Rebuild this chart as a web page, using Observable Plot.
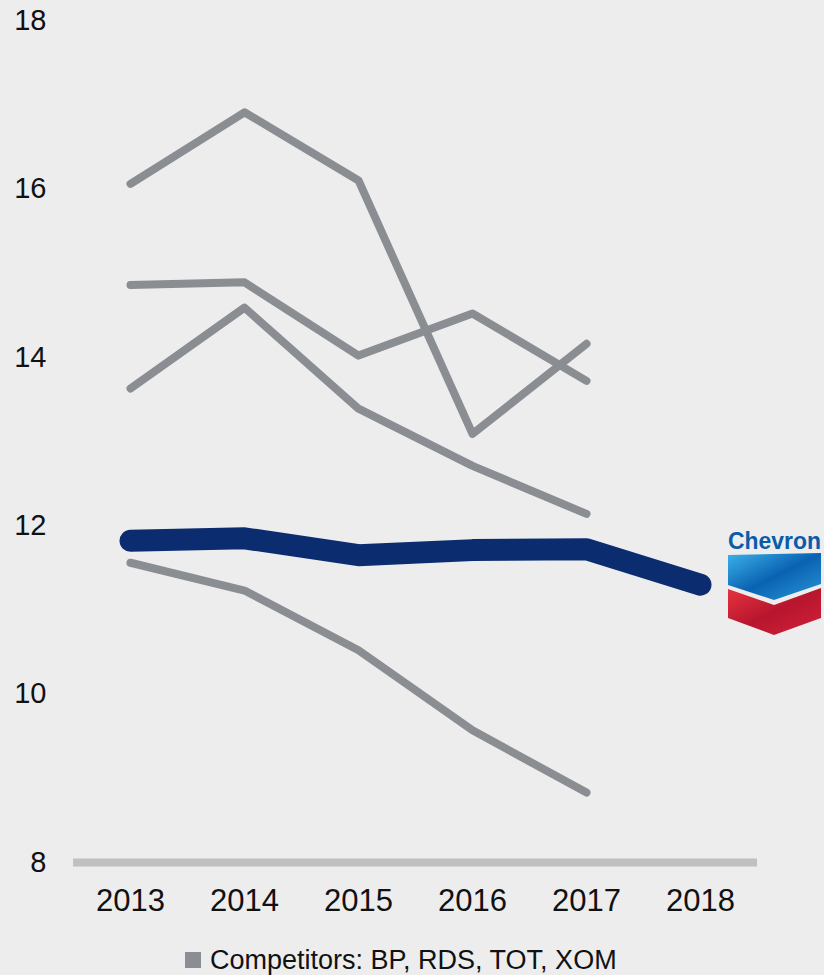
<!DOCTYPE html>
<html>
<head>
<meta charset="utf-8">
<script src="https://cdn.jsdelivr.net/npm/d3@7"></script>
<script src="https://cdn.jsdelivr.net/npm/@observablehq/plot@0.6"></script>
<style>
  html, body { margin: 0; padding: 0; background: #ededed; }
  #wrap { position: relative; width: 824px; height: 975px; background: #ededed; font-family: "Liberation Sans", Arial, sans-serif; }
  #legend { position: absolute; left: 185px; top: 940px; height: 40px; display: flex; align-items: center; font-size: 27px; color: #111; }
  #legend .sw { width: 16px; height: 16px; background: #8a8d91; margin-right: 9px; }
  #logo { position: absolute; left: 724px; top: 525px; }
</style>
</head>
<body>
<div id="wrap"></div>
<script>
const years = [2013, 2014, 2015, 2016, 2017, 2018];
const competitorYears = [2013, 2014, 2015, 2016, 2017];
const competitorA = [16.06, 16.91, 16.10, 13.09, 14.16];
const competitorB = [14.86, 14.89, 14.02, 14.52, 13.72];
const competitorC = [13.63, 14.59, 13.39, 12.71, 12.14];
const competitorD = [11.56, 11.23, 10.52, 9.57, 8.83];
const chevron = [11.82, 11.85, 11.65, 11.71, 11.72, 11.30];
const yTicks = [8, 10, 12, 14, 16, 18];
const legendLabel = "Competitors: BP, RDS, TOT, XOM";

const competitors = {A: competitorA, B: competitorB, C: competitorC, D: competitorD};
const compData = Object.entries(competitors).flatMap(([name, vals]) =>
  vals.map((v, i) => ({series: name, year: competitorYears[i], value: v})));
const chevData = chevron.map((v, i) => ({year: years[i], value: v}));

const chart = Plot.plot({
  width: 824,
  height: 925,
  marginTop: 20,
  marginBottom: 63,
  marginLeft: 73,
  marginRight: 67,
  style: {background: "transparent", fontFamily: "'Liberation Sans', Arial, sans-serif", color: "#111"},
  x: {type: "linear", domain: [2012.5, 2018.5]},
  y: {domain: [8, 18]},
  marks: [
    Plot.ruleY([8], {stroke: "#c0c0c0", strokeWidth: 8}),
    Plot.axisX({ticks: years, tickSize: 0, tickPadding: 26, fontSize: 31, tickFormat: d => String(d), label: null, fill: "#111"}),
    Plot.axisY({ticks: yTicks, tickSize: 0, tickPadding: 27, fontSize: 29, label: null, fill: "#111"}),
    Plot.line(compData, {x: "year", y: "value", z: "series", stroke: "#8a8d91", strokeWidth: 8, strokeLinecap: "round", strokeLinejoin: "round"}),
    Plot.line(chevData, {x: "year", y: "value", stroke: "#0b2d6f", strokeWidth: 22, strokeLinecap: "round", strokeLinejoin: "round"})
  ]
});

const wrap = document.getElementById("wrap");
wrap.appendChild(chart);

const legend = document.createElement("div");
legend.id = "legend";
legend.innerHTML = '<div class="sw"></div><span></span>';
legend.querySelector("span").textContent = legendLabel;
wrap.appendChild(legend);

const logo = document.createElement("div");
logo.id = "logo";
logo.innerHTML = `
<svg width="100" height="115" viewBox="0 0 100 115" xmlns="http://www.w3.org/2000/svg">
  <defs>
    <linearGradient id="gb" x1="0" y1="0" x2="1" y2="1">
      <stop offset="0" stop-color="#3cb2ea"/>
      <stop offset="0.5" stop-color="#0a62b2"/>
      <stop offset="1" stop-color="#2a96d8"/>
    </linearGradient>
    <linearGradient id="gr" x1="0" y1="0" x2="1" y2="1">
      <stop offset="0" stop-color="#e63440"/>
      <stop offset="0.5" stop-color="#b8152e"/>
      <stop offset="1" stop-color="#d4203a"/>
    </linearGradient>
  </defs>
  <text x="4" y="24" font-family="'Liberation Sans', Arial, sans-serif" font-weight="bold" font-size="24" fill="#0a5cab" textLength="93" lengthAdjust="spacingAndGlyphs">Chevron</text>
  <polygon points="4,30 97,28 97,59 50,75 4,60" fill="url(#gb)"/>
  <polygon points="4,64 50,80 97,63 97,93 50,110 4,93" fill="url(#gr)"/>
</svg>`;
wrap.appendChild(logo);
</script>
</body>
</html>
